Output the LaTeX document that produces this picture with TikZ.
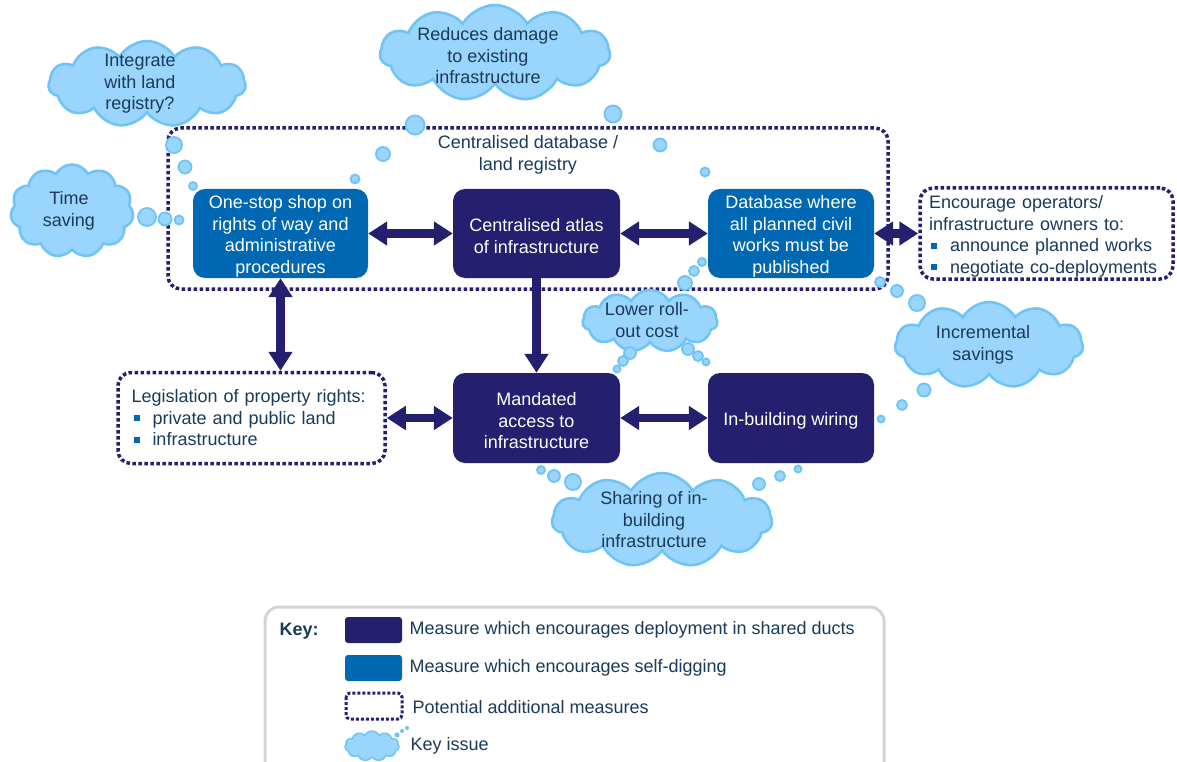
\documentclass[tikz,border=0pt]{standalone}
\usepackage{fontspec}
\setmainfont{Liberation Sans}
\usetikzlibrary{shapes.symbols,arrows.meta}
\definecolor{navy}{HTML}{241F6E}
\definecolor{midblue}{HTML}{0068B2}
\definecolor{cloudfill}{HTML}{99D5FD}
\definecolor{cloudline}{HTML}{6EC3F7}
\definecolor{txt}{HTML}{1A3A5A}
\definecolor{keygray}{HTML}{D4D4D4}
\newcommand{\bul}{\hspace*{2pt}\textcolor{midblue}{\rule[3pt]{6pt}{6pt}}\hspace*{13pt}}
\newcommand{\tp}{\rule{0pt}{18.5pt}}
\begin{document}
\begin{tikzpicture}[x=1pt,y=-1pt,font=\fontsize{18}{21.5}\selectfont,
  solidbox/.style={rounded corners=12pt,inner sep=0pt,text=white,align=center},
  shared/.style={solidbox,fill=navy},
  selfdig/.style={solidbox,fill=midblue},
  dotbox/.style={draw=navy,line width=3.5pt,dash pattern=on 3.5pt off 2.5pt,rounded corners=13pt,text=txt,align=left,inner ysep=0pt},
  issue/.style={cloud,cloud puffs=11,cloud puff arc=120,cloud ignores aspect,fill=cloudfill,draw=cloudline,line width=2.5pt,inner sep=0pt},
  issuetext/.style={text=txt,align=center,inner sep=0pt},
  bubble/.style={fill=cloudfill,draw=cloudline,line width=1.8pt},
  tip/.tip={Triangle[width=23pt,length=19pt]},
  arr/.style={draw=navy,color=navy,line width=8.5pt},
  dbl/.style={arr,tip-tip},
  sgl/.style={arr,-tip}]
\clip (0,0) rectangle (1177,762);
\fill[white] (0,0) rectangle (1177,762);

% container
\draw[dotbox] (168,128) rectangle (888,289);
\node[text=txt,align=center] (cdb) at (528,155) {Centralised database /\\land registry};

% measures
\node[selfdig,minimum width=175pt,minimum height=89pt] (one) at (280.5,233.5) {\tp One-stop shop on\\rights of way and\\administrative\\procedures};
\node[shared,minimum width=167pt,minimum height=89pt] (atlas) at (536.5,233.5) {\tp Centralised atlas\\of infrastructure};
\node[selfdig,minimum width=166pt,minimum height=89pt] (db) at (791,233.5) {\tp Database where\\all planned civil\\works must be\\published};
\node[dotbox,minimum width=253pt,minimum height=91pt,text width=235pt,inner xsep=9pt] (enc) at (1046.5,233.5) {\tp Encourage operators/\\infrastructure owners to:\\\bul announce planned works\\\bul negotiate co-deployments};
\node[dotbox,minimum width=267pt,minimum height=91pt,text width=240pt,inner xsep=13.5pt] (legis) at (251.5,418) {Legislation of property rights:\\\bul private and public land\\\bul infrastructure};
\node[shared,minimum width=167pt,minimum height=90pt] (mand) at (536.5,418) {\tp Mandated\\access to\\infrastructure};
\node[shared,minimum width=166pt,minimum height=90pt] (inb) at (791,418) {\tp In-building wiring};

% connectors
\draw[dbl] (one.east) -- (atlas.west);
\draw[dbl] (atlas.east) -- (db.west);
\draw[dbl] (db.east) -- (enc.west);
\draw[dbl] (one.south) -- (one.south |- legis.north);
\draw[sgl] (atlas.south) -- (mand.north);
\draw[dbl] (legis.east) -- (mand.west);
\draw[dbl] (mand.east) -- (inb.west);

% key issues
\node[issue,minimum width=197pt,minimum height=86pt] (c1) at (147,84) {};
\node[issuetext] (c1t) at (140,84) {Integrate\\with land\\registry?};
\node[issue,minimum width=230pt,minimum height=96pt] (c2) at (495,53) {};
\node[issuetext] (c2t) at (488,56) {Reduces damage\\to existing\\infrastructure};
\node[issue,minimum width=123pt,minimum height=93pt] (c3) at (72,211) {};
\node[issuetext] (c3t) at (69,211) {Time\\saving};
\node[issue,minimum width=135pt,minimum height=62pt] (c4) at (650,321) {};
\node[issuetext] (c4t) at (647,320) {Lower roll-\\out cost};
\node[issue,minimum width=188pt,minimum height=86pt] (c5) at (989,345) {};
\node[issuetext] (c5t) at (983,345) {Incremental\\savings};
\node[issue,minimum width=220pt,minimum height=94pt] (c6) at (662,520) {};
\node[issuetext] (c6t) at (654,520) {Sharing of in-\\building\\infrastructure};

\foreach \x/\y/\r in {147/217/9,165/219/6.5,179/220/4.5,
  174/145/8,185/167/6.5,193/186/4,
  415/125/9.5,383/154/7,355/179/4.5,
  613/114/8.5,660/145/6.5,705/172/4.5,
  685/283/7,694/271/5,702/262/4,
  630/353/6,623/361/5,617/369/3.5,
  688/349/6,698/356/5,706/362/3.5,
  917/303/8,897/291/6,880/282/5,
  924/390/6.5,902/405/5,881/419/3.5,
  573/482/8,554/476/6,541/470/4,
  759/484/6,780/476/5,798/469/3.5}
  \draw[bubble] (\x,\y) circle (\r);

% key
\draw[keygray,line width=3pt,rounded corners=14pt] (265,607) rectangle (884,800);
\node[anchor=west,text=txt,font=\fontsize{18}{21.5}\selectfont\bfseries] (keyt) at (276,631) {Key:};
\fill[navy,rounded corners=3pt] (345,617) rectangle (402,643);
\node[anchor=west,text=txt] (k1) at (406,630) {Measure which encourages deployment in shared ducts};
\fill[midblue,rounded corners=3pt] (345,655) rectangle (402,681);
\node[anchor=west,text=txt] (k2) at (406,668) {Measure which encourages self-digging};
\draw[navy,line width=3pt,dash pattern=on 3pt off 2pt,rounded corners=4pt] (346,693) rectangle (402,719);
\node[anchor=west,text=txt] (k3) at (409,707) {Potential additional measures};
\node[issue,line width=1.5pt,minimum width=54pt,minimum height=30pt] (k4c) at (372,746) {};
\foreach \x/\y/\r in {397/735/2.5,402/731/2,407/728/2}
  \fill[cloudline] (\x,\y) circle (\r);
\node[anchor=west,text=txt] (k4) at (407,746) {Key issue};
\end{tikzpicture}
\end{document}
